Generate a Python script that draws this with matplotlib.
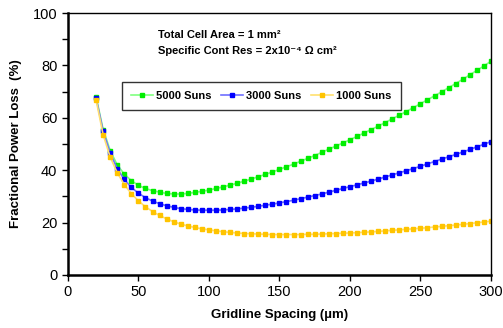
import matplotlib
matplotlib.use("Agg")
import matplotlib.pyplot as plt

plt.rcParams['font.family'] = ['Liberation Sans', 'DejaVu Sans']

spacing = list(range(20, 305, 5))

suns_5000 = [68, 55.5, 47.5, 42, 38.5, 36, 34.2, 33, 32.2, 31.6, 31.1, 30.9, 30.9, 31.1, 31.5,
             31.9, 32.4, 33, 33.6, 34.3, 35, 35.8, 36.6, 37.5, 38.4, 39.3, 40.3, 41.3, 42.3,
             43.4, 44.5, 45.6, 46.8, 48, 49.2, 50.4, 51.6, 52.9, 54.2, 55.5, 56.8, 58.2, 59.6,
             61, 62.4, 63.9, 65.4, 66.9, 68.4, 69.9, 71.5, 73.1, 74.7, 76.4, 78.1, 79.8, 81.6]
suns_3000 = [67.5, 54.8, 46.5, 40.5, 36.5, 33.4, 31.2, 29.5, 28.2, 27.2, 26.4, 25.8, 25.3, 25,
             24.8, 24.7, 24.7, 24.7, 24.8, 25, 25.2, 25.5, 25.8, 26.2, 26.6, 27, 27.5, 28, 28.5,
             29.1, 29.7, 30.3, 30.9, 31.6, 32.3, 33, 33.7, 34.4, 35.1, 35.8, 36.6, 37.4, 38.2,
             39, 39.8, 40.6, 41.5, 42.4, 43.3, 44.2, 45.1, 46, 46.9, 47.9, 48.9, 49.9, 50.9]
suns_1000 = [66.8, 53.5, 45, 39, 34.5, 31, 28.3, 26, 24.2, 22.7, 21.4, 20.3, 19.4, 18.7, 18.1,
             17.6, 17.2, 16.8, 16.5, 16.2, 16, 15.8, 15.7, 15.6, 15.5, 15.4, 15.4, 15.4, 15.4,
             15.4, 15.5, 15.5, 15.6, 15.7, 15.8, 15.9, 16, 16.1, 16.3, 16.4, 16.6, 16.8, 17,
             17.2, 17.4, 17.6, 17.8, 18, 18.3, 18.5, 18.8, 19.0, 19.3, 19.6, 19.9, 20.2, 20.5]

series = [
    ("5000 Suns", suns_5000, "#00ee00", "#80ff80"),
    ("3000 Suns", suns_3000, "#0000ff", "#7070ff"),
    ("1000 Suns", suns_1000, "#ffc400", "#ffe070"),
]

fig = plt.figure(figsize=(5.03, 3.28), dpi=100)
ax = fig.add_axes([0.135, 0.162, 0.841, 0.798])

for label, vals, mc, lc in series:
    ax.plot(spacing, vals, color=lc, lw=1.2, marker="s", markersize=3.2,
            markerfacecolor=mc, markeredgecolor=mc, label=label)

ax.set_xlim(0, 300)
ax.set_ylim(0, 100)
ax.set_xticks(range(0, 301, 50))
ax.set_yticks(range(0, 101, 20))
ax.set_yticks(range(10, 100, 20), minor=True)
ax.tick_params(axis="both", which="major", direction="out", length=4, width=1, labelsize=10.5)
ax.tick_params(axis="y", which="minor", direction="out", length=4, width=1)

for side in ["left", "bottom"]:
    ax.spines[side].set_linewidth(1.8)
for side in ["top", "right"]:
    ax.spines[side].set_linewidth(1.0)

ax.set_xlabel("Gridline Spacing (µm)", fontsize=9.5, fontweight="bold", labelpad=7)
ax.set_ylabel("Fractional Power Loss  (%)", fontsize=9.5, fontweight="bold", labelpad=8)

ax.text(0.213, 0.905, "Total Cell Area = 1 mm²", transform=ax.transAxes,
        fontsize=8, fontweight="bold")
ax.text(0.213, 0.845, "Specific Cont Res = 2x10⁻⁴ Ω cm²",
        transform=ax.transAxes, fontsize=8, fontweight="bold")

leg = ax.legend(loc="upper left", bbox_to_anchor=(0.128, 0.735), ncol=3, frameon=True,
                fancybox=False, edgecolor="black", prop={"weight": "bold", "size": 8},
                handlelength=2.0, columnspacing=0.8, borderpad=0.8, handletextpad=0.3,
                borderaxespad=0)
leg.get_frame().set_linewidth(1.0)

fig.savefig("out.png", dpi=100)
